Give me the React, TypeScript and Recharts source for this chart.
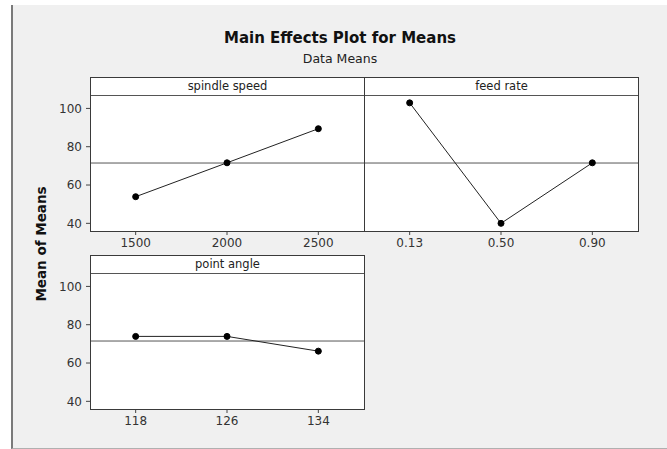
import { LineChart, Line, XAxis, YAxis, ReferenceLine } from "recharts";

const spindleLevels = ["1500", "2000", "2500"];
const spindleMeans = [53.9, 71.6, 89.4];

const feedLevels = ["0.13", "0.50", "0.90"];
const feedMeans = [102.9, 40.0, 71.6];

const angleLevels = ["118", "126", "134"];
const angleMeans = [73.9, 73.9, 66.2];

const yTicks = [40, 60, 80, 100];
const yDomain = [36, 107];

const allMeans = [...spindleMeans, ...feedMeans, ...angleMeans];
const grandMean = allMeans.reduce((a, b) => a + b, 0) / allMeans.length;

const FONT = "'DejaVu Sans', Tahoma, sans-serif";
const FRAME = "#3a3a3a";

const toRows = (levels: string[], means: number[]) =>
  levels.map((level, i) => ({ level, mean: means[i] }));

interface PanelProps {
  title: string;
  levels: string[];
  means: number[];
  left: number; // plot area left
  top: number; // panel (strip) top
  showY: boolean;
}

const STRIP_H = 18;
const PLOT_W = 274;
const PLOT_H = 136;
const Y_AXIS_W = 40;
const X_AXIS_H = 30;

function Panel({ title, levels, means, left, top, showY }: PanelProps) {
  const data = toRows(levels, means);
  const chartLeft = showY ? left - Y_AXIS_W : left;
  const chartW = showY ? PLOT_W + Y_AXIS_W : PLOT_W;
  return (
    <>
      <div
        style={{
          position: "absolute",
          left,
          top,
          width: PLOT_W,
          height: STRIP_H + PLOT_H,
          background: "#fff",
        }}
      />
      <div style={{ position: "absolute", left: chartLeft, top: top + STRIP_H }}>
        <LineChart
          width={chartW}
          height={PLOT_H + X_AXIS_H}
          data={data}
          margin={{ top: 0, right: 0, bottom: 0, left: 0 }}
        >
          <XAxis
            dataKey="level"
            type="category"
            scale="band"
            height={X_AXIS_H}
            tickSize={4}
            tickMargin={3}
            axisLine={false}
            tickLine={{ stroke: "#444" }}
            tick={{ fontSize: 12, fill: "#333", fontFamily: FONT }}
          />
          <YAxis
            hide={!showY}
            width={Y_AXIS_W}
            type="number"
            domain={yDomain}
            ticks={yTicks}
            allowDataOverflow
            tickSize={4}
            tickMargin={4}
            axisLine={false}
            tickLine={{ stroke: "#444" }}
            tick={{ fontSize: 12, fill: "#333", fontFamily: FONT }}
          />
          <ReferenceLine y={grandMean} stroke="#555" strokeWidth={1} />
          <Line
            type="linear"
            dataKey="mean"
            stroke="#222"
            strokeWidth={1}
            dot={{ r: 3, fill: "#000", stroke: "#000", strokeWidth: 1 }}
            isAnimationActive={false}
          />
        </LineChart>
      </div>
      {/* frame + strip */}
      <div
        style={{
          position: "absolute",
          left,
          top,
          width: PLOT_W + 1,
          height: STRIP_H + PLOT_H + 1,
          boxSizing: "border-box",
          border: `1px solid ${FRAME}`,
          pointerEvents: "none",
        }}
      >
        <div
          style={{
            height: STRIP_H - 1,
            borderBottom: `1px solid #555`,
            boxSizing: "content-box",
            textAlign: "center",
            fontFamily: FONT,
            fontSize: 11.5,
            lineHeight: `${STRIP_H - 1}px`,
            color: "#222",
          }}
        >
          {title}
        </div>
      </div>
    </>
  );
}

export default function App() {
  return (
    <div
      style={{
        position: "absolute",
        left: 0,
        top: 0,
        width: 667,
        height: 449,
        background: "#fff",
        overflow: "hidden",
      }}
    >
      <div
        style={{
          position: "absolute",
          left: 11,
          top: 5,
          width: 656,
          height: 443,
          background: "#f0f0f0",
          borderLeft: "2px solid #7a7a7a",
          borderBottom: "1px solid #b0b0b0",
        }}
      />
      <div
        style={{
          position: "absolute",
          left: 340,
          top: 38,
          transform: "translate(-50%, -50%)",
          fontFamily: FONT,
          fontWeight: "bold",
          fontSize: 15,
          color: "#111",
          whiteSpace: "nowrap",
        }}
      >
        Main Effects Plot for Means
      </div>
      <div
        style={{
          position: "absolute",
          left: 340,
          top: 58,
          transform: "translate(-50%, -50%)",
          fontFamily: FONT,
          fontSize: 12.5,
          color: "#222",
          whiteSpace: "nowrap",
        }}
      >
        Data Means
      </div>
      <div
        style={{
          position: "absolute",
          left: 41,
          top: 244,
          transform: "translate(-50%, -50%) rotate(-90deg)",
          fontFamily: FONT,
          fontWeight: "bold",
          fontSize: 13.5,
          color: "#111",
          whiteSpace: "nowrap",
        }}
      >
        Mean of Means
      </div>

      <Panel title="spindle speed" levels={spindleLevels} means={spindleMeans} left={90} top={77} showY />
      <Panel title="feed rate" levels={feedLevels} means={feedMeans} left={364} top={77} showY={false} />
      <Panel title="point angle" levels={angleLevels} means={angleMeans} left={90} top={255} showY />
    </div>
  );
}
